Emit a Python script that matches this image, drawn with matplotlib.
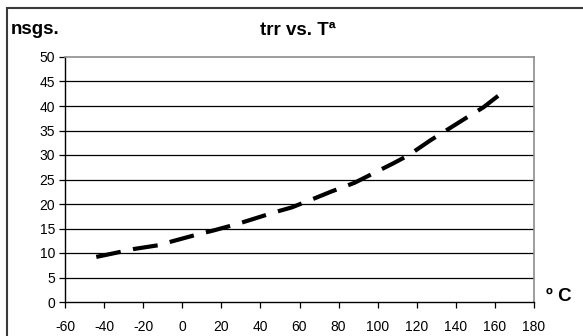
import matplotlib
matplotlib.use('Agg')
import matplotlib.pyplot as plt
from matplotlib.patches import Rectangle

plt.rcParams['font.family'] = ['Liberation Sans', 'DejaVu Sans']
plt.rcParams['axes.unicode_minus'] = False

# temperature (ºC) and trr (nsgs.)
temp = [-44, -32, -25, -12, -5, 7, 16, 28, 36, 48, 56, 68, 76, 88,
        96, 108, 116, 127, 135, 147, 154, 164]
trr = [9.2, 10.2, 10.8, 11.6, 12.4, 13.7, 14.6, 15.9, 16.9, 18.4, 19.3,
       21.2, 22.5, 24.3, 25.9, 28.3, 30.0, 33.0, 35.0, 38.0, 39.7, 42.8]

x_ticks = list(range(-60, 181, 20))
y_ticks = list(range(0, 51, 5))

W, H = 583, 336
fig = plt.figure(figsize=(W / 100, H / 100), dpi=100)
ax = fig.add_axes([65 / W, 1 - 302 / H, (534 - 65) / W, (302 - 57) / H])

for y in y_ticks[1:-1]:
    ax.axhline(y, color='black', lw=0.9, zorder=1)

line, = ax.plot(temp, trr, color='black', lw=3.0, solid_capstyle='butt',
                dash_capstyle='butt', zorder=3)
line.set_dashes((6, 3))

ax.set_xlim(-60, 180)
ax.set_ylim(0, 50)
ax.set_xticks(x_ticks)
ax.set_yticks(y_ticks)
ax.tick_params(axis='both', direction='out', length=4, width=0.9,
               labelsize=10, color='black')
ax.tick_params(axis='x', pad=9)
ax.tick_params(axis='y', pad=3)

for s in ['left', 'bottom']:
    ax.spines[s].set_color('black')
    ax.spines[s].set_linewidth(1.0)
for s in ['top', 'right']:
    ax.spines[s].set_color('#8c8c8c')
    ax.spines[s].set_linewidth(1.2)

fig.text(11 / W, 1 - 34 / H, 'nsgs.', fontsize=13.5, fontweight='bold',
         ha='left', va='baseline')
fig.text(298 / W, 1 - 35 / H, 'trr vs. Tª', fontsize=13.5, fontweight='bold',
         ha='center', va='baseline')
fig.text(546 / W, 1 - 301 / H, 'º C', fontsize=13.5, fontweight='bold',
         ha='left', va='baseline')

# outer chart border (cut off at right and bottom)
fig.patches.append(Rectangle((7 / W, -0.1), 1.2, 1 - 8 / H + 0.1,
                             transform=fig.transFigure, fill=False,
                             edgecolor='#3a3a3a', lw=1.5))

fig.savefig('out.png', dpi=100)
